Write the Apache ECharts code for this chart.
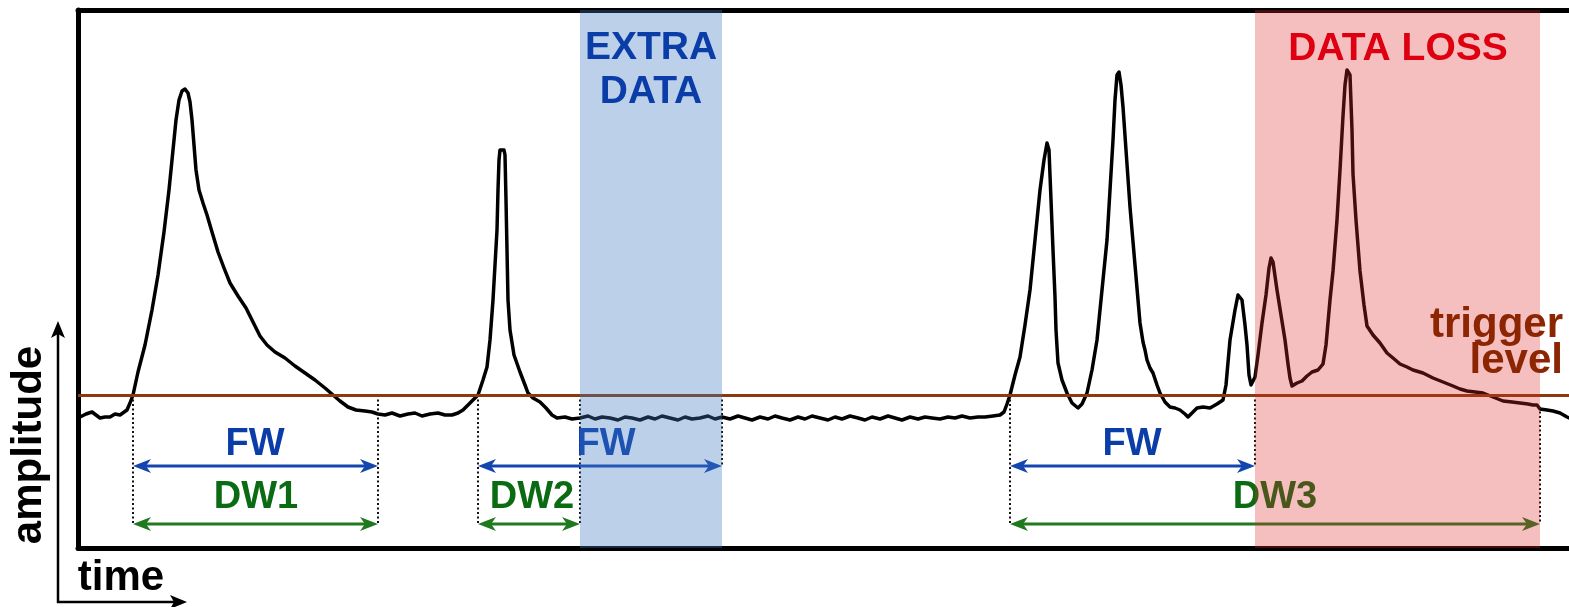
<!DOCTYPE html>
<html>
<head>
<meta charset="utf-8">
<script src="https://cdn.jsdelivr.net/npm/echarts@6/dist/echarts.min.js"></script>
<style>
html,body{margin:0;padding:0;background:#fff;}
#chart{width:1569px;height:607px;}
</style>
</head>
<body>
<div id="chart"></div>
<script>
// ---- waveform (time, amplitude relative to baseline) ----
const time = [80,86,92,100,105,110,115,120,127,130,133,
138,145,152,158,164,169,173,176,179,182,185,188,190,192,194,196,199,203,207,212,218,224,230,238,246,254,260,267,275,285,295,305,315,325,333,340,348,356,365,372,378,
385,392,400,408,415,422,430,438,445,452,458,463,468,473,478,
483,487,490,493,495,497,498,499,500,502,504,505,506,507,508,510,514,520,525,528,533,540,546,552,557,
565,572,580,588,595,602,610,618,625,632,640,648,655,662,670,678,685,692,700,708,715,722,730,738,745,752,760,768,775,782,790,798,805,812,820,828,835,842,850,858,865,872,880,888,895,902,910,918,925,932,940,948,955,962,970,978,985,993,1000,1004,1007,1010,
1015,1020,1025,1030,1035,1040,1044,1047,1049,1051,1053,1055,1056,1058,1062,1067,1072,1078,1082,1087,1092,1097,1102,1107,1110,1113,1115,1117,1119,1121,1123,1126,1130,1135,1140,1143,1145,1147,1150,1153,1157,1160,1165,1170,1175,1180,1185,1188,1192,1197,1203,1210,1217,1223,1226,1230,1235,1238,1240,1242,1245,1247,1249,1251,1253,1255,1258,1262,1266,1269,1271,1273,1277,1281,1285,1288,1290,1292,1297,1302,1307,1312,1318,1323,1326,1330,1333,1337,1340,1343,1345,1347,1349,1350,1352,1353,1356,1360,1364,1367,1373,1380,1387,1393,1400,1407,1413,1423,1433,1443,1453,1460,1467,1475,1483,1493,1503,1512,1520,1528,1533,1537,1540,1547,1553,1560,1567,1572];
const amplitude = [1,4,6,0,1,1,4,3,8,15,23,
46,73,108,143,186,228,268,298,318,327,329,325,316,298,273,248,228,215,203,186,166,150,135,122,110,94,82,73,66,60,52,45,38,30,23,17,11,8,7,6,4,
3,5,2,4,5,2,4,5,3,3,5,8,13,18,23,
38,51,78,118,153,188,228,258,268,270,268,263,218,168,118,88,63,46,33,25,20,16,10,3,0,
1,-1,0,2,-1,1,0,-2,1,0,-2,1,-1,2,0,-2,1,-1,0,2,-1,1,-1,2,0,-2,1,-1,2,0,-2,1,-1,2,0,-2,1,-1,2,0,-2,1,-1,2,0,-2,1,-1,1,0,-1,1,0,2,0,1,1,2,3,6,14,23,
43,61,93,128,178,228,258,275,268,218,168,121,88,55,38,25,15,10,14,25,48,78,128,178,228,278,318,343,346,333,311,268,211,153,95,76,68,58,50,45,33,25,16,11,10,8,4,1,5,10,11,10,14,18,33,78,108,123,125,118,93,73,43,33,33,41,63,95,123,150,160,156,128,103,78,54,40,32,35,37,42,46,48,54,73,118,147,198,248,302,333,348,348,343,288,244,198,147,113,92,83,75,65,60,54,51,48,45,40,36,32,29,27,26,25,21,17,16,15,14,13,13,9,8,7,5,1,-1];
const triggerLevel = 23;

// ---- windows ----
const regionStart = [580, 1255];
const regionEnd   = [722, 1540];
const regionKind  = ['extra', 'loss'];

const arrowStart = [133, 133, 478, 478, 1010, 1010];
const arrowEnd   = [378, 378, 722, 580, 1255, 1540];
const arrowLevel = [-48, -106, -48, -106, -48, -106];
const arrowKind  = ['FW','DW','FW','DW','FW','DW'];

const markerTime = [133, 378, 478, 580, 722, 1010, 1255, 1540];
const markerTop  = [23, 23, 23, 23, 23, 23, 23, 11];
const markerBottom = [-106, -106, -106, -106, -48, -106, -48, -106];

// ---- annotation texts ----
const windowLabels = ['FW','DW1','FW','DW2','FW','DW3'];
const windowLabelTime = [255, 256, 606, 532, 1132, 1275];
const windowLabelAmp  = [-27, -80, -27, -80, -27, -80];
const windowLabelKind = ['FW','DW','FW','DW','FW','DW'];

const regionLabels = ['EXTRA','DATA','DATA LOSS'];
const regionLabelTime = [651, 651, 1398];
const regionLabelAmp  = [370, 326, 369];
const regionLabelKind = ['extra','extra','loss'];

const triggerLabels = ['trigger','level'];
const triggerLabelTime = [1563, 1563];
const triggerLabelAmp = [93, 57];

// ---- styling ----
const FONT = 'Liberation Sans, Arial, Helvetica, sans-serif';
const textColor = {FW:'#0b3da9', DW:'#0b6b12', extra:'#0b3da9', loss:'#de0010'};
const arrowColor = {FW:'#1446b0', DW:'#1f7a1f'};
const fillColor = {extra:'rgba(64,121,195,0.35)', loss:'rgba(222,42,48,0.30)'};

const chart = echarts.init(document.getElementById('chart'), null, {renderer:'canvas'});

const wave = time.map((t,i)=>[t, amplitude[i]]);

function textSeries(name, labels, xs, ys, colorFn, size, align, z){
  return {
    type:'custom', name, coordinateSystem:'cartesian2d', z, clip:false, silent:true,
    data: labels.map((s,i)=>[xs[i], ys[i], i]),
    encode:{x:0,y:1},
    renderItem:(params, api)=>{
      const i = api.value(2);
      const p = api.coord([api.value(0), api.value(1)]);
      return {type:'text', x:p[0], y:p[1], style:{
        text: labels[i], fill: colorFn(i), fontSize:size, fontWeight:'bold',
        fontFamily:FONT, align:align, verticalAlign:'middle'}};
    }
  };
}

const frameLine = {show:true, onZero:false, lineStyle:{color:'#000', width:5}};
const option = {
  animation:false,
  backgroundColor:'#fff',
  grid:{left:78, top:10, right:0, bottom:59, show:false},
  xAxis:[
    {type:'value', min:78, max:1569, position:'bottom', axisLine:frameLine, axisTick:{show:false}, axisLabel:{show:false}, splitLine:{show:false}},
    {type:'value', min:78, max:1569, position:'top', axisLine:frameLine, axisTick:{show:false}, axisLabel:{show:false}, splitLine:{show:false}}
  ],
  yAxis:{type:'value', min:-130, max:408, position:'left', axisLine:frameLine, axisTick:{show:false}, axisLabel:{show:false}, splitLine:{show:false}},
  graphic:[
    {type:'line', shape:{x1:58,y1:603,x2:58,y2:334}, style:{stroke:'#000', lineWidth:2.5}},
    {type:'polygon', shape:{points:[[58,321],[51,338],[58,334],[65,338]]}, style:{fill:'#000'}},
    {type:'line', shape:{x1:57,y1:602,x2:174,y2:602}, style:{stroke:'#000', lineWidth:2.5}},
    {type:'polygon', shape:{points:[[187,602],[170,595],[174,602],[170,609]]}, style:{fill:'#000'}},
    {type:'text', x:29, y:445, rotation:Math.PI/2, style:{text:'amplitude', fill:'#000', fontSize:42, fontWeight:'bold', fontFamily:FONT, align:'center', verticalAlign:'middle'}},
    {type:'text', x:121, y:578, style:{text:'time', fill:'#000', fontSize:42, fontWeight:'bold', fontFamily:FONT, align:'center', verticalAlign:'middle'}}
  ],
  series:[
    {
      type:'line', name:'signal', data:wave, showSymbol:false, symbol:'none', z:2, clip:true,
      lineStyle:{color:'#000', width:3.5, join:'round'},
      markLine:{silent:true, symbol:['none','none'], label:{show:false},
        lineStyle:{color:'#8a3a0e', width:3, type:'solid'},
        data:[{yAxis:triggerLevel}]}
    },
    {
      type:'custom', name:'markers', coordinateSystem:'cartesian2d', z:3, clip:false, silent:true,
      data: markerTime.map((t,i)=>[t, markerTop[i], markerBottom[i]]),
      encode:{x:0, y:[1,2]},
      renderItem:(params, api)=>{
        const a = api.coord([api.value(0), api.value(1)]);
        const b = api.coord([api.value(0), api.value(2)]);
        return {type:'line', shape:{x1:a[0],y1:a[1],x2:b[0],y2:b[1]},
          style:{stroke:'#111', lineWidth:2, lineDash:[2,2.5]}};
      }
    },
    {
      type:'custom', name:'windows', coordinateSystem:'cartesian2d', z:3, clip:false, silent:true,
      data: arrowStart.map((s,i)=>[s, arrowLevel[i], arrowEnd[i], i]),
      encode:{x:[0,2], y:1},
      renderItem:(params, api)=>{
        const i = api.value(3);
        const c = arrowColor[arrowKind[i]];
        const p0 = api.coord([api.value(0), api.value(1)]);
        const p1 = api.coord([api.value(2), api.value(1)]);
        const y = p0[1], L = 18, W = 7, N = 13;
        return {type:'group', children:[
          {type:'line', shape:{x1:p0[0]+N, y1:y, x2:p1[0]-N, y2:y}, style:{stroke:c, lineWidth:3}},
          {type:'polygon', shape:{points:[[p0[0],y],[p0[0]+L,y-W],[p0[0]+N,y],[p0[0]+L,y+W]]}, style:{fill:c}},
          {type:'polygon', shape:{points:[[p1[0],y],[p1[0]-L,y-W],[p1[0]-N,y],[p1[0]-L,y+W]]}, style:{fill:c}}
        ]};
      }
    },
    textSeries('windowLabels', windowLabels, windowLabelTime, windowLabelAmp, i=>textColor[windowLabelKind[i]], 38, 'center', 4),
    {
      type:'custom', name:'regions', coordinateSystem:'cartesian2d', z:5, clip:false, silent:true,
      data: regionStart.map((s,i)=>[s, regionEnd[i], i]),
      encode:{x:[0,1]},
      renderItem:(params, api)=>{
        const i = api.value(2);
        const a = api.coord([api.value(0), 408]);
        const b = api.coord([api.value(1), -130]);
        return {type:'rect', shape:{x:a[0], y:a[1], width:b[0]-a[0], height:b[1]-a[1]},
          style:{fill:fillColor[regionKind[i]]}};
      }
    },
    textSeries('regionLabels', regionLabels, regionLabelTime, regionLabelAmp, i=>textColor[regionLabelKind[i]], 39, 'center', 6),
    textSeries('triggerLabels', triggerLabels, triggerLabelTime, triggerLabelAmp, ()=>'#8b2502', 42, 'right', 6)
  ]
};
chart.setOption(option);
</script>
</body>
</html>
